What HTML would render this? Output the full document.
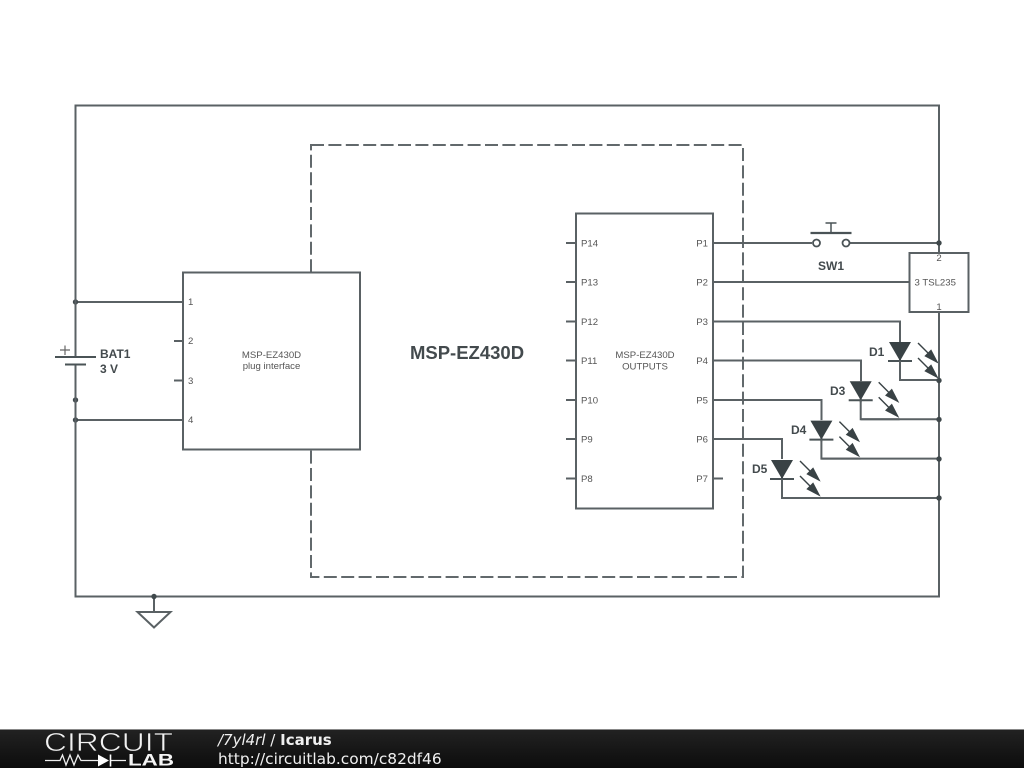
<!DOCTYPE html>
<html><head><meta charset="utf-8"><style>
html,body{margin:0;padding:0;background:#fff;width:1024px;height:768px;overflow:hidden}
svg{display:block;filter:blur(.3px)}
text{font-family:"Liberation Sans",sans-serif;fill:#4a5052}
.p{font-size:9.6px;fill:#555}
.b{font-weight:bold;font-size:12px;fill:#434a4d}
</style></head><body>
<svg width="1024" height="768" viewBox="0 0 1024 768" xmlns="http://www.w3.org/2000/svg">
<defs>
<linearGradient id="g" x1="0" y1="0" x2="0" y2="1"><stop offset="0" stop-color="#222"/><stop offset="1" stop-color="#0c0c0c"/></linearGradient>
<g id="led">
<path d="M0 0V21" stroke="#5a6164" stroke-width="2" fill="none"/>
<path d="M-11 0H11L0 19Z" fill="#394245"/>
<path d="M-12 19H12" stroke="#4a5356" stroke-width="2"/>
<path d="M0 19V38H39" stroke="#5a6164" stroke-width="2" fill="none"/>
<g stroke="#394245" stroke-width="1.4" fill="#394245">
<path d="M18 1L37 20" fill="none"/><path d="M37 20L25.500 14L31 8.500Z"/>
<path d="M18 16L37 35" fill="none"/><path d="M37 35L25.500 29L31 23.500Z"/>
</g>
</g>
</defs>
<rect x="311" y="145" width="432" height="432" fill="none" stroke="#62696c" stroke-width="2" stroke-dasharray="13,4.4"/>
<g fill="none" stroke="#5a6164" stroke-width="2">
<path d="M75.5 105.5H939V596.5H75.5Z"/>
<path d="M75.5 302H183M75.5 420H183"/>
<path d="M174 341H183M174 380.500H183"/>
<path d="M154 596.500V612"/>
<path d="M137.500 612H170.500L154 627.500Z"/>
<path d="M713 243H812M850 243H939M713 282H909"/>
<path d="M713 321.500H900V342M713 360.500H861V381M713 400H821.500V420M713 439H782V459"/>
<path d="M713 478.500H723M566 243H576M566 282H576M566 321.500H576M566 360.500H576M566 400H576M566 439H576M566 478.500H576"/>
</g>
<rect x="183" y="272.500" width="177" height="177" fill="#fff" stroke="#5a6164" stroke-width="2"/>
<rect x="576" y="213.500" width="137" height="295" fill="#fff" stroke="#5a6164" stroke-width="2"/>
<rect x="909.500" y="253" width="59" height="59" fill="#fff" stroke="#5a6164" stroke-width="2"/>
<use href="#led" x="900" y="342"/>
<use href="#led" x="860.700" y="381.300"/>
<path d="M860.700 419.300H939" stroke="#5a6164" stroke-width="2"/>
<use href="#led" x="821.400" y="420.600"/>
<path d="M821.400 458.600H939" stroke="#5a6164" stroke-width="2"/>
<use href="#led" x="782" y="460"/>
<path d="M782 498H939" stroke="#5a6164" stroke-width="2"/>
<path d="M939 312V380" stroke="#5a6164" stroke-width="2"/>
<path d="M939 243V253" stroke="#5a6164" stroke-width="2"/>
<!-- dots -->
<g fill="#3f484b">
<circle cx="75.500" cy="302" r="2.700"/><circle cx="75.500" cy="400" r="2.700"/><circle cx="75.500" cy="420" r="2.700"/>
<circle cx="154" cy="596.500" r="2.700"/><circle cx="939" cy="243" r="2.700"/><circle cx="939" cy="380.500" r="2.700"/>
<circle cx="939" cy="419.500" r="2.700"/><circle cx="939" cy="459" r="2.700"/><circle cx="939" cy="498" r="2.700"/>
</g>
<!-- battery -->
<rect x="65" y="350" width="20" height="20" fill="#fff"/>
<path d="M75.500 105.500V357M75.500 365V596.500" stroke="#5a6164" stroke-width="2" fill="none"/>
<path d="M55 357H96" stroke="#4a5356" stroke-width="2"/>
<path d="M65 364.500H86" stroke="#4a5356" stroke-width="2"/>
<path d="M60 350H70M65 345.500V355" stroke="#666" stroke-width="1.200"/>
<!-- switch -->
<circle cx="816.500" cy="243" r="3.500" fill="#fff" stroke="#4a5356" stroke-width="1.800"/>
<circle cx="846" cy="243" r="3.500" fill="#fff" stroke="#4a5356" stroke-width="1.800"/>
<path d="M810.500 233H851.500" stroke="#4a5356" stroke-width="2.200"/>
<path d="M831 233V223M825.500 223H836.500" stroke="#4a5356" stroke-width="1.500"/>
<!-- labels -->
<text class="b" x="100" y="358">BAT1</text>
<text class="b" x="100" y="373">3 V</text>
<text class="b" x="818" y="270">SW1</text>
<text class="b" x="869" y="356">D1</text>
<text class="b" x="830" y="395">D3</text>
<text class="b" x="791" y="434">D4</text>
<text class="b" x="752" y="473">D5</text>
<text x="467" y="359" text-anchor="middle" font-size="18.500" font-weight="bold" style="fill:#434a4d">MSP-EZ430D</text>
<g class="p">
<text class="p" x="188" y="305">1</text><text class="p" x="188" y="344">2</text><text class="p" x="188" y="384">3</text><text class="p" x="188" y="423">4</text>
<text class="p" x="271.500" y="358" text-anchor="middle">MSP-EZ430D</text>
<text class="p" x="271.500" y="369" text-anchor="middle">plug interface</text>
<text class="p" x="645" y="358" text-anchor="middle">MSP-EZ430D</text>
<text class="p" x="645" y="369.500" text-anchor="middle">OUTPUTS</text>
<text class="p" x="581" y="246.500">P14</text><text class="p" x="581" y="285.500">P13</text><text class="p" x="581" y="325">P12</text><text class="p" x="581" y="364">P11</text><text class="p" x="581" y="403.500">P10</text><text class="p" x="581" y="442.500">P9</text><text class="p" x="581" y="482">P8</text>
<text class="p" x="708" y="246.500" text-anchor="end">P1</text><text class="p" x="708" y="285.500" text-anchor="end">P2</text><text class="p" x="708" y="325" text-anchor="end">P3</text><text class="p" x="708" y="364" text-anchor="end">P4</text><text class="p" x="708" y="403.500" text-anchor="end">P5</text><text class="p" x="708" y="442.500" text-anchor="end">P6</text><text class="p" x="708" y="482" text-anchor="end">P7</text>
<text class="p" x="939" y="261" text-anchor="middle">2</text>
<text class="p" x="939" y="310" text-anchor="middle">1</text>
<text class="p" x="914.500" y="285.500">3 TSL235</text>
</g>
<!-- footer -->
<rect x="0" y="729" width="1024" height="39" fill="url(#g)"/>
<rect x="0" y="729" width="1024" height="1" fill="#888"/>
<text x="44" y="751" font-size="26" textLength="129" lengthAdjust="spacingAndGlyphs" style="fill:#f2f2f2;stroke:#1c1c1c;stroke-width:.7">CIRCUIT</text>
<path d="M45 760.500H60L62.500 755L66 765L70 755L74 765L78 755L81 760.500H98M111 760.500H126" stroke="#eee" stroke-width="1.300" fill="none"/>
<path d="M98 754.500V766.500L109 760.500Z" fill="#fff"/><path d="M110.500 754.500V766.500" stroke="#fff" stroke-width="1.600"/>
<text x="128" y="765.500" font-size="17" font-weight="bold" textLength="46" lengthAdjust="spacingAndGlyphs" style="fill:#f5f5f5">LAB</text>
<text x="218" y="745" font-size="15" style="font-family:'DejaVu Sans',sans-serif;fill:#f0f0f0"><tspan font-style="italic">/7yl4rl</tspan> / <tspan font-weight="bold">Icarus</tspan></text>
<text x="218" y="764" font-size="15.400" style="font-family:'DejaVu Sans',sans-serif;fill:#f0f0f0">http://circuitlab.com/c82df46</text>
</svg>
</body></html>
